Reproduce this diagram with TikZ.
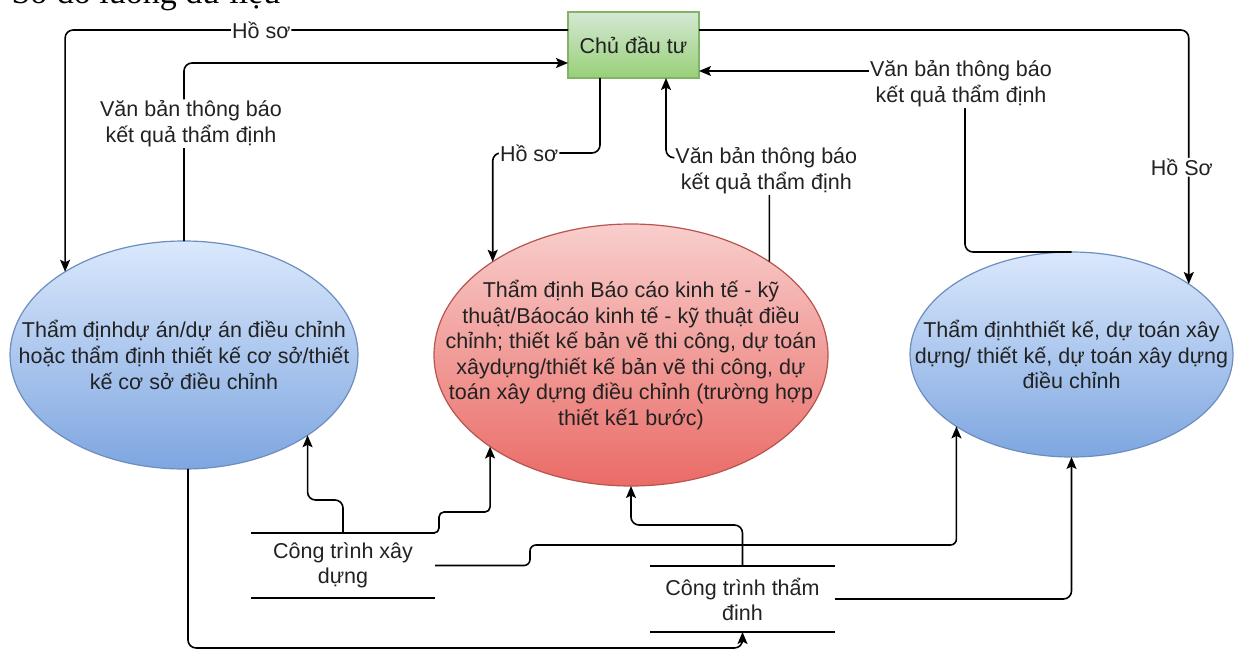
\documentclass[tikz,border=0pt]{standalone}
\usepackage{fontspec}
\setmainfont{Liberation Sans}
\newfontfamily\titlefont{Liberation Serif}
\usetikzlibrary{arrows.meta,shapes.geometric,calc}

\definecolor{txt}{HTML}{222222}
\definecolor{blueTop}{HTML}{DAE8FC}
\definecolor{blueBot}{HTML}{7EA6E0}
\definecolor{blueLine}{HTML}{6C8EBF}
\definecolor{redTop}{HTML}{F8CECC}
\definecolor{redBot}{HTML}{EA6B66}
\definecolor{redLine}{HTML}{B85450}
\definecolor{greenTop}{HTML}{D5E8D4}
\definecolor{greenBot}{HTML}{97D077}
\definecolor{greenLine}{HTML}{82B366}

\begin{document}
\begin{tikzpicture}[x=1pt,y=-1pt,
  every node/.style={font=\fontsize{21.5}{26}\selectfont, text=txt},
  conn/.style={draw=black, line width=1.6pt, rounded corners=8pt,
    -{Stealth[length=12pt,width=10pt,inset=2.5pt]}},
  lbl/.style={fill=white, inner sep=1pt, align=center},
  proc/.style={ellipse, draw, line width=1.2pt, inner sep=0pt, outer sep=0pt},
  ptext/.style={align=center, font=\fontsize{21.5}{25.6}\selectfont},
  store/.style={inner sep=0pt, outer sep=0pt, align=center,
    font=\fontsize{21.5}{25}\selectfont},
  rule/.style={draw=black, line width=1.6pt}
]
\useasboundingbox (0,0) rectangle (1234,650);
\clip (0,0) rectangle (1234,650);

% heading of the page, cut by the top edge
\node[anchor=base west, font=\titlefont\fontsize{34}{40}\selectfont, text=black]
  (title) at (8,4) {Sơ đồ luồng dữ liệu};

% owner
\node[draw=greenLine, line width=1.2pt, top color=greenTop, bottom color=greenBot,
  minimum width=131pt, minimum height=66pt, inner sep=0pt, outer sep=0pt]
  (cdt) at (633.5,45) {Chủ đầu tư};

% appraisal processes
\node[proc, draw=blueLine, top color=blueTop, bottom color=blueBot,
  minimum width=348pt, minimum height=228pt,
  label={[ptext]center:Thẩm địnhdự án/dự án điều chỉnh\\hoặc thẩm định thiết kế cơ sở/thiết\\kế cơ sở điều chỉnh}]
  (L) at (184,355) {};
\node[proc, draw=redLine, top color=redTop, bottom color=redBot,
  minimum width=394pt, minimum height=262pt,
  label={[ptext]center:Thẩm định Báo cáo kinh tế - kỹ\\thuật/Báocáo kinh tế - kỹ thuật điều\\chỉnh; thiết kế bản vẽ thi công, dự toán\\xâydựng/thiết kế bản vẽ thi công, dự\\toán xây dựng điều chỉnh (trường hợp\\thiết kế1 bước)}]
  (R) at (631,355) {};
\node[proc, draw=blueLine, top color=blueTop, bottom color=blueBot,
  minimum width=323pt, minimum height=205pt,
  label={[ptext]center:Thẩm địnhthiết kế, dự toán xây\\dựng/ thiết kế, dự toán xây dựng\\điều chỉnh}]
  (B) at (1071.5,354.5) {};

% data stores
\node[store, minimum width=184pt, minimum height=65pt] (xd) at (343,565.5)
  {Công trình xây\\dựng};
\node[store, minimum width=185pt, minimum height=66pt] (td) at (742.5,599)
  {Công trình thẩm\\đinh};
\draw[rule] (xd.north west) -- (xd.north east);
\draw[rule] (xd.south west) -- (xd.south east);
\draw[rule] (td.north west) -- (td.north east);
\draw[rule] (td.south west) -- (td.south east);

% owner -> left process, and its answer
\draw[conn] ([yshift=-18pt]cdt.north west) -| node[lbl,pos=0.305]{Hồ sơ} (L.145.9);
\draw[conn] (L.north) |- node[lbl,pos=0.33,xshift=7pt]{Văn bản thông báo\\kết quả thẩm định}
  ([yshift=-51pt]cdt.north west);

% owner -> right process, and its answer
\draw[conn] ([yshift=-18pt]cdt.north east) -| node[lbl,pos=0.77,xshift=-7pt]{Hồ Sơ} (B.31.4);
\draw[conn] (B.north) -- ++(-106.5,0) |-
  node[lbl,pos=0.5,yshift=-13pt,xshift=-4pt]{Văn bản thông báo\\kết quả thẩm định}
  ([yshift=-59pt]cdt.north east);

% owner -> middle process, and its answer
\draw[conn] ([xshift=-33.5pt]cdt.south) -- ++(0,75) -| node[lbl,pos=0.33]{Hồ sơ} (R.146.7);
\draw[conn] (R.34.5) -- node[lbl,pos=1,yshift=-13pt,xshift=-3pt]{Văn bản thông báo\\kết quả thẩm định}
  ++(0,-104) -| ([xshift=32.5pt]cdt.south);

% left process -> appraised works
\draw[conn] (L.272) -- ++(0,179) -| (td.south);

% construction works -> processes
\draw[conn] (xd.north) -- ++(0,-33) -| (L.327.2);
\draw[conn, rounded corners=5pt] ([xshift=-6pt]xd.north east) -- ++(10,0) -- ++(0,-21) -| (R.213.3);
\draw[conn, rounded corners=6pt] (xd.east) -- ++(95,0) -- ++(0,-20.5) -| (B.212.7);

% appraised works -> processes
\draw[conn] (td.north) -- ++(0,-41) -| (R.south);
\draw[conn] (td.east) -| (B.south);
\end{tikzpicture}
\end{document}
